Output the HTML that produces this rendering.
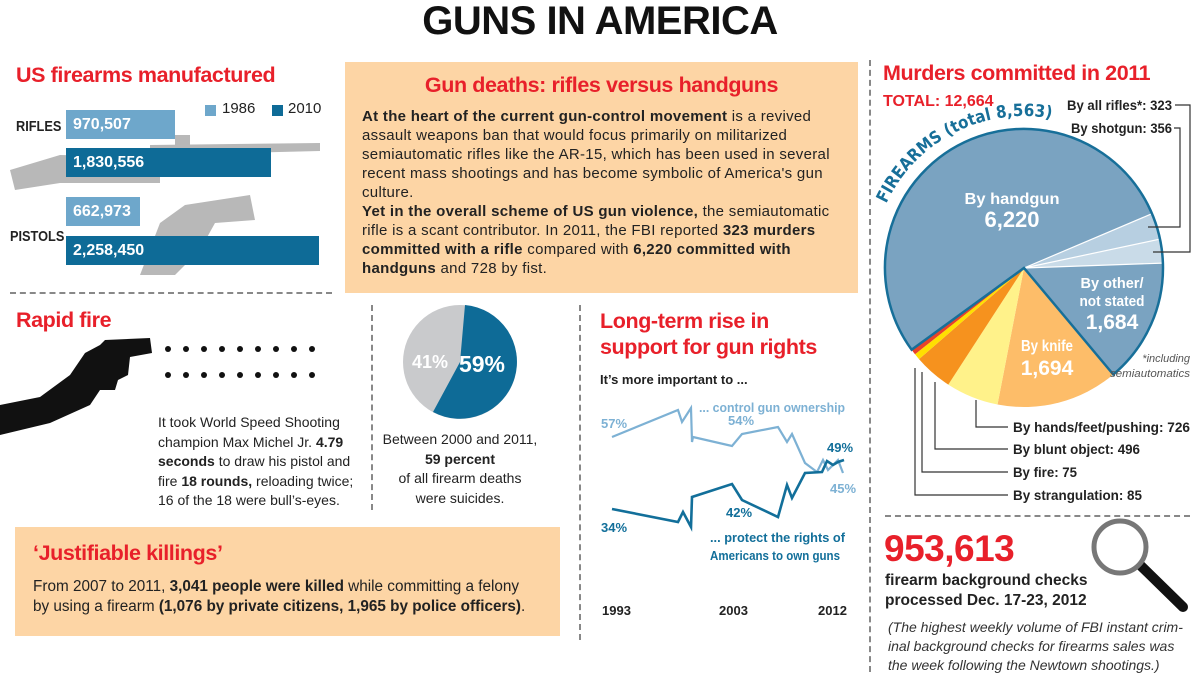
<!DOCTYPE html>
<html><head><meta charset="utf-8">
<style>
*{margin:0;padding:0;box-sizing:border-box}
body{width:1200px;height:680px;background:#fff;position:relative;overflow:hidden;font-family:"Liberation Sans",sans-serif;color:#222}
.a{position:absolute;white-space:nowrap}
.red{color:#e8202a;font-weight:bold}
.h{font-size:21.5px;letter-spacing:-0.4px}
.t{font-size:14px;line-height:19px}
.box{position:absolute;background:#fdd5a5}
.bar{position:absolute;color:#fff;font-weight:bold;font-size:16px;padding-left:7px;line-height:29px}
.dash{position:absolute;border-left:2px dashed #888}
.hdash{position:absolute;border-top:2px dashed #888}
.nx{transform:scaleX(0.85);transform-origin:left center}
</style></head><body>

<div class="a" style="left:0;width:1200px;text-align:center;top:-1px;font-size:40px;font-weight:bold;color:#111;letter-spacing:-0.5px">GUNS IN AMERICA</div>

<!-- firearms manufactured -->
<div class="a red h" style="left:16px;top:63px">US firearms manufactured</div>
<svg class="a" style="left:0;top:95px" width="340" height="190">
 <path d="M10 75 L60 60 L150 62 L150 50 L320 48 L320 56 L160 60 L160 88 L60 88 L15 95 Z" fill="#b8b8b8"/>
 <path d="M175 40 L190 40 L190 55 L175 55Z" fill="#b8b8b8"/>
 <path d="M140 180 L160 128 L185 110 L250 100 L255 125 L215 128 L200 155 L175 180 Z" fill="#b8b8b8"/>
</svg>
<div class="bar" style="left:66px;top:110px;width:109px;background:#6ea7cb">970,507</div>
<div class="bar" style="left:66px;top:148px;width:205px;background:#0e6b97">1,830,556</div>
<div class="bar" style="left:66px;top:197px;width:74px;background:#6ea7cb">662,973</div>
<div class="bar" style="left:66px;top:236px;width:253px;background:#0e6b97">2,258,450</div>
<div class="a nx" style="left:16px;top:118px;font-weight:bold;font-size:15px">RIFLES</div>
<div class="a nx" style="left:10px;top:228px;font-weight:bold;font-size:15px">PISTOLS</div>
<div class="a" style="left:205px;top:105px;width:11px;height:11px;background:#6ea7cb"></div>
<div class="a" style="left:222px;top:100px;font-size:15px">1986</div>
<div class="a" style="left:272px;top:105px;width:11px;height:11px;background:#0e6b97"></div>
<div class="a" style="left:288px;top:100px;font-size:15px">2010</div>
<div class="hdash" style="left:10px;top:292px;width:322px"></div>

<!-- gun deaths -->
<div class="box" style="left:345px;top:62px;width:513px;height:231px"></div>
<div class="a red h" style="left:345px;width:513px;text-align:center;top:73px">Gun deaths: rifles versus handguns</div>
<div class="a" style="left:362px;top:107px;font-size:15px;letter-spacing:0.3px;line-height:19px"><b>At the heart of the current gun-control movement</b> is a revived<br>assault weapons ban that would focus primarily on militarized<br>semiautomatic rifles like the AR-15, which has been used in several<br>recent mass shootings and has become symbolic of America's gun<br>culture.<br><b>Yet in the overall scheme of US gun violence,</b> the semiautomatic<br>rifle is a scant contributor. In 2011, the FBI reported <b>323 murders</b><br><b>committed with a rifle</b> compared with <b>6,220 committed with</b><br><b>handguns</b> and 728 by fist.</div>

<div class="dash" style="left:371px;top:305px;height:205px"></div>
<div class="dash" style="left:579px;top:305px;height:335px"></div>
<div class="dash" style="left:869px;top:60px;height:612px"></div>

<!-- rapid fire -->
<div class="a red h" style="left:16px;top:308px">Rapid fire</div>
<svg class="a" style="left:0;top:335px" width="340" height="100">
 <path d="M0 70 L40 62 L70 40 L85 18 L100 10 L105 5 L150 3 L152 18 L130 22 L128 40 L118 45 L115 55 L100 55 L90 70 L50 88 L0 100 Z" fill="#111"/>
 <g fill="#111">
 <circle cx="168" cy="14" r="3"/><circle cx="186" cy="14" r="3"/><circle cx="204" cy="14" r="3"/><circle cx="222" cy="14" r="3"/><circle cx="240" cy="14" r="3"/><circle cx="258" cy="14" r="3"/><circle cx="276" cy="14" r="3"/><circle cx="294" cy="14" r="3"/><circle cx="312" cy="14" r="3"/>
 <circle cx="168" cy="40" r="3"/><circle cx="186" cy="40" r="3"/><circle cx="204" cy="40" r="3"/><circle cx="222" cy="40" r="3"/><circle cx="240" cy="40" r="3"/><circle cx="258" cy="40" r="3"/><circle cx="276" cy="40" r="3"/><circle cx="294" cy="40" r="3"/><circle cx="312" cy="40" r="3"/>
 </g>
</svg>
<div class="a t" style="left:158px;top:413px;line-height:19.5px">It took World Speed Shooting<br>champion Max Michel Jr. <b>4.79</b><br><b>seconds</b> to draw his pistol and<br>fire <b>18 rounds,</b> reloading twice;<br>16 of the 18 were bull’s-eyes.</div>

<svg class="a" style="left:400px;top:302px" width="120" height="120">
 <circle cx="60" cy="60" r="57" fill="#c9cacc"/>
 <path d="M60 60 L65 3 A57 57 0 1 1 33 110 Z" fill="#0e6b97"/>
 <text x="30" y="66" font-size="18" font-weight="bold" fill="#fff" text-anchor="middle" font-family="Liberation Sans,sans-serif">41%</text>
 <text x="82" y="70" font-size="23" font-weight="bold" fill="#fff" text-anchor="middle" font-family="Liberation Sans,sans-serif">59%</text>
</svg>
<div class="a t" style="left:380px;width:160px;text-align:center;top:430px;line-height:19.5px">Between 2000 and 2011,<br><b>59 percent</b><br>of all firearm deaths<br>were suicides.</div>

<!-- justifiable -->
<div class="box" style="left:15px;top:527px;width:545px;height:109px"></div>
<div class="a red h" style="left:33px;top:541px">‘Justifiable killings’</div>
<div class="a" style="left:33px;top:577px;font-size:15.3px;line-height:20px">From 2007 to 2011, <b>3,041 people were killed</b> while committing a felony<br>by using a firearm <b>(1,076 by private citizens, 1,965 by police officers)</b>.</div>

<!-- line chart -->
<div class="a red h" style="left:600px;top:308px;line-height:26px">Long-term rise in<br>support for gun rights</div>
<div class="a" style="left:600px;top:372px;font-weight:bold;font-size:13px">It’s more important to ...</div>
<svg class="a" style="left:585px;top:390px" width="280" height="240" font-family="Liberation Sans,sans-serif" font-weight="bold">
 <polyline fill="none" stroke="#7db1d4" stroke-width="2.2" points="27,47 93,20 97,32 106,18 107,52 108,47 147,56 157,44 193,37 202,52 207,44 220,73 232,82 238,70 243,80 253,70 258,83"/>
 <polyline fill="none" stroke="#126f9a" stroke-width="2.6" points="27,119 93,132 98,122 106,137 107,107 147,94 157,110 193,127 202,95 207,108 220,83 237,82 242,71 248,75 253,72 259,70"/>
 <text x="16" y="38" font-size="13" fill="#7db1d4">57%</text>
 <text x="143" y="35" font-size="13" fill="#7db1d4">54%</text>
 <text x="114" y="22" font-size="13" fill="#7db1d4" textLength="146" lengthAdjust="spacingAndGlyphs">... control gun ownership</text>
 <text x="245" y="103" font-size="13" fill="#7db1d4">45%</text>
 <text x="16" y="142" font-size="13" fill="#126f9a">34%</text>
 <text x="141" y="127" font-size="13" fill="#126f9a">42%</text>
 <text x="242" y="62" font-size="13" fill="#126f9a">49%</text>
 <text x="125" y="152" font-size="13" fill="#126f9a" textLength="135" lengthAdjust="spacingAndGlyphs">... protect the rights of</text>
 <text x="125" y="170" font-size="13" fill="#126f9a" textLength="130" lengthAdjust="spacingAndGlyphs">Americans to own guns</text>
 <text x="17" y="225" font-size="13" fill="#222">1993</text>
 <text x="134" y="225" font-size="13" fill="#222">2003</text>
 <text x="233" y="225" font-size="13" fill="#222">2012</text>
</svg>

<!-- murders pie -->
<div class="a red h" style="left:883px;top:61px">Murders committed in 2011</div>
<div class="a red" style="left:883px;top:93px;font-size:16px">TOTAL: 12,664</div>
<svg class="a" style="left:870px;top:100px;overflow:visible" width="330" height="420" font-family="Liberation Sans,sans-serif" font-weight="bold">
 <defs><path id="arc" d="M16.2 103.8 A152 152 0 0 1 206 25.2"/></defs>
 <g transform="translate(154,168)">
  <path d="M0 0 L-112.4 81.7 A139 139 0 1 1 127.9 -54.3 Z" fill="#7aa3c1"/>
  <path d="M0 0 L127.9 -54.3 A139 139 0 0 1 136 -28.9 Z" fill="#b7cfe1"/>
  <path d="M0 0 L136 -28.9 A139 139 0 0 1 138.9 -4.9 Z" fill="#c9dbe8"/>
  <path d="M0 0 L138.9 -4.9 A139 139 0 0 1 89.3 106.5 Z" fill="#7aa3c1"/>
  <path d="M0 0 L89.3 106.5 A139 139 0 0 1 -26.5 136.5 Z" fill="#fdbd69"/>
  <path d="M0 0 L-26.5 136.5 A139 139 0 0 1 -75.7 116.6 Z" fill="#fff28a"/>
  <path d="M0 0 L-75.7 116.6 A139 139 0 0 1 -105 91.1 Z" fill="#f6921e"/>
  <path d="M0 0 L-105 91.1 A139 139 0 0 1 -109 86.3 Z" fill="#ffe000"/>
  <path d="M0 0 L-109 86.3 A139 139 0 0 1 -112.4 81.7 Z" fill="#e8432a"/>
  <path d="M127.9 -54.3 L0 0 L136 -28.9 M0 0 L138.9 -4.9" stroke="#fff" stroke-width="1.2" fill="none"/>
  <path d="M-112.4 81.7 A139 139 0 1 1 138.9 -4.9 A139 139 0 0 1 89.3 106.5 L0 0 Z" fill="none" stroke="#176f99" stroke-width="2.5"/>
 </g>
 <text font-size="17" fill="#176f99" font-family="DejaVu Sans,sans-serif" font-weight="bold"><textPath href="#arc" textLength="200" lengthAdjust="spacingAndGlyphs">FIREARMS (total 8,563)</textPath></text>
 <text x="142" y="104" font-size="16" fill="#fff" text-anchor="middle" textLength="95" lengthAdjust="spacingAndGlyphs">By handgun</text>
 <text x="142" y="127" font-size="22" fill="#fff" text-anchor="middle">6,220</text>
 <text x="242" y="188" font-size="15" fill="#fff" text-anchor="middle" textLength="63" lengthAdjust="spacingAndGlyphs">By other/</text>
 <text x="242" y="206" font-size="15" fill="#fff" text-anchor="middle" textLength="65" lengthAdjust="spacingAndGlyphs">not stated</text>
 <text x="242" y="229" font-size="21" fill="#fff" text-anchor="middle">1,684</text>
 <text x="177" y="251" font-size="16" fill="#fff" text-anchor="middle" textLength="52" lengthAdjust="spacingAndGlyphs">By knife</text>
 <text x="177" y="275" font-size="21" fill="#fff" text-anchor="middle">1,694</text>
 <text x="320" y="262" font-size="11" fill="#555" text-anchor="end" font-style="italic" font-weight="normal">*including</text>
 <text x="320" y="277" font-size="11" fill="#555" text-anchor="end" font-style="italic" font-weight="normal" textLength="80" lengthAdjust="spacingAndGlyphs">semiautomatics</text>
 <text x="197" y="10" font-size="14" fill="#222" textLength="105" lengthAdjust="spacingAndGlyphs">By all rifles*: 323</text>
 <text x="201" y="33" font-size="14" fill="#222" textLength="101" lengthAdjust="spacingAndGlyphs">By shotgun: 356</text>
 <g stroke="#333" stroke-width="1.2" fill="none">
  <polyline points="305,5 320,5 320,152 283,152"/>
  <polyline points="304,28 310,28 310,127 278,127"/>
  <polyline points="106,300 106,327 138,327"/>
  <polyline points="65,282 65,349 138,349"/>
  <polyline points="52,272 52,372 138,372"/>
  <polyline points="45,268 45,395 138,395"/>
 </g>
 <text x="143" y="332" font-size="14" fill="#222" textLength="177" lengthAdjust="spacingAndGlyphs">By hands/feet/pushing: 726</text>
 <text x="143" y="354" font-size="14" fill="#222" textLength="127" lengthAdjust="spacingAndGlyphs">By blunt object: 496</text>
 <text x="143" y="377" font-size="14" fill="#222" textLength="64" lengthAdjust="spacingAndGlyphs">By fire: 75</text>
 <text x="143" y="400" font-size="14" fill="#222" textLength="129" lengthAdjust="spacingAndGlyphs">By strangulation: 85</text>
</svg>
<div class="hdash" style="left:885px;top:515px;width:305px"></div>

<div class="a red" style="left:884px;top:528px;font-size:37px;letter-spacing:-0.5px">953,613</div>
<div class="a" style="left:885px;top:571px;font-weight:bold;font-size:15.5px;line-height:20px">firearm background checks<br>processed Dec. 17-23, 2012</div>
<div class="a" style="left:888px;top:618px;font-style:italic;font-size:14px;line-height:19px;color:#333">(The highest weekly volume of FBI instant crim-<br>inal background checks for firearms sales was<br>the week following the Newtown shootings.)</div>
<svg class="a" style="left:1085px;top:515px" width="110" height="100">
 <line x1="55" y1="50" x2="98" y2="92" stroke="#111" stroke-width="10" stroke-linecap="round"/>
 <circle cx="35" cy="32" r="26" fill="#fff" stroke="#777" stroke-width="5"/>
</svg>
</body></html>
